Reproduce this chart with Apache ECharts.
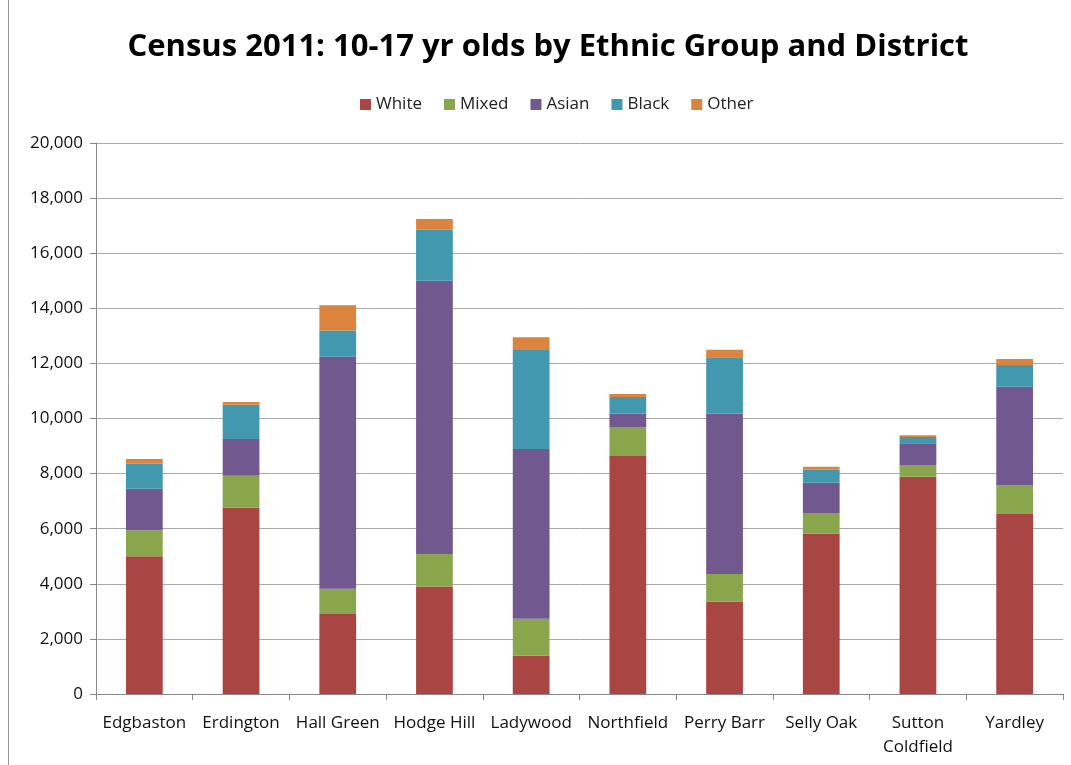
<!DOCTYPE html>
<html><head><meta charset="utf-8">
<script src="https://cdn.jsdelivr.net/npm/echarts@6/dist/echarts.min.js"></script>
<style>html,body{margin:0;padding:0;background:#fff}#c{width:1071px;height:765px}</style>
</head><body><div id="c"></div>
<script>
const categories = ["Edgbaston","Erdington","Hall Green","Hodge Hill","Ladywood","Northfield","Perry Barr","Selly Oak","Sutton\nColdfield","Yardley"];
const white = [5000, 6770, 2900, 3900, 1390, 8640, 3360, 5830, 7890, 6530];
const mixed = [940, 1150, 920, 1180, 1340, 1050, 1000, 740, 425, 1040];
const asian = [1510, 1340, 8420, 9920, 6160, 495, 5820, 1100, 785, 3580];
const black = [910, 1235, 955, 1850, 3600, 595, 2040, 470, 230, 790];
const other = [170, 100, 920, 390, 460, 110, 280, 110, 60, 220];
const seriesNames = ["White","Mixed","Asian","Black","Other"];
const colors = ["#A94643","#8AA64C","#71588F","#4198AF","#DB843D"];
const font = "'Open Sans', 'Liberation Sans', sans-serif";
const chart = echarts.init(document.getElementById('c'));
const datasets = [white, mixed, asian, black, other];
chart.setOption({
  animation: false,
  title: {text: "Census 2011: 10-17 yr olds by Ethnic Group and District", left: 543, textAlign: 'center', top: 27,
    textStyle: {fontFamily: font, fontSize: 31, fontWeight: 'bold', color: '#000'}},
  legend: {top: 91, left: 355, itemWidth: 11, itemHeight: 11, itemGap: 22, icon: 'rect',
    textStyle: {fontFamily: font, fontSize: 17, color: '#222'}},
  grid: {left: 96, right: 8, top: 143, bottom: 71, containLabel: false},
  xAxis: {type: 'category', data: categories,
    axisLine: {lineStyle: {color: '#888'}},
    axisTick: {show: true, interval: 0, alignWithLabel: false, length: 6, lineStyle: {color: '#888'}},
    axisLabel: {interval: 0, fontFamily: font, fontSize: 17, color: '#111', margin: 17, lineHeight: 24}},
  yAxis: {type: 'value', min: 0, max: 20000, interval: 2000,
    axisLine: {show: true, lineStyle: {color: '#888'}},
    axisTick: {show: true, length: 6, lineStyle: {color: '#888'}},
    splitLine: {lineStyle: {color: '#aaa'}},
    axisLabel: {fontFamily: font, fontSize: 17, color: '#111', margin: 13,
      formatter: v => v.toLocaleString('en-US')}},
  series: seriesNames.map((n, i) => ({
    name: n, type: 'bar', stack: 'total', data: datasets[i], barWidth: '38%',
    itemStyle: {color: colors[i]}
  })),
  graphic: [{type: 'line', shape: {x1: 8.5, y1: 0, x2: 8.5, y2: 765}, style: {stroke: '#999', lineWidth: 1}}]
});
</script></body></html>
